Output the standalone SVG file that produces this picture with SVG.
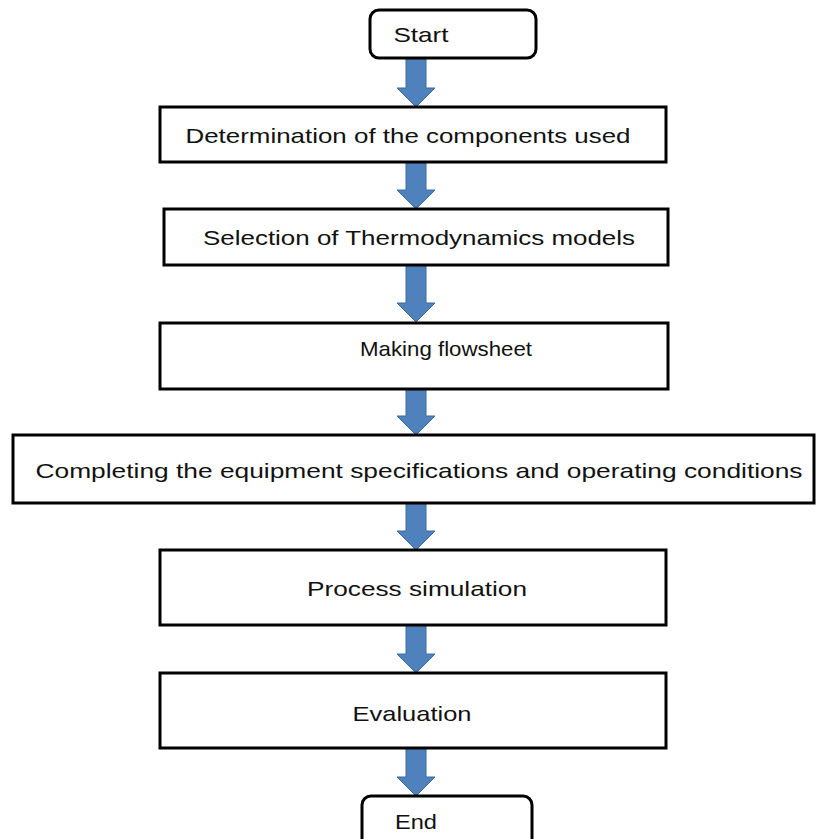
<svg xmlns="http://www.w3.org/2000/svg" width="816" height="839" viewBox="0 0 816 839">
<style>
.box{fill:#fff;stroke:#000;stroke-width:3}
.lbl{font-family:"Liberation Sans","Open Sans",Arial,sans-serif;font-size:21px;fill:#111;text-anchor:middle;dominant-baseline:central}
.arr{fill:#4f81bd;stroke:#3b6aa0;stroke-width:1}
</style>
<rect width="816" height="839" fill="#fff"/>
<g id="connectors">
<path class="arr" d="M406,58 H426 V88 H435 L416,107 L397,88 H406 Z"/>
<path class="arr" d="M406,162 H426 V190 H435 L416,209 L397,190 H406 Z"/>
<path class="arr" d="M406,265 H426 V303 H435 L416,322 L397,303 H406 Z"/>
<path class="arr" d="M406,389 H426 V416 H435 L416,435 L397,416 H406 Z"/>
<path class="arr" d="M406,503 H426 V531 H435 L416,550 L397,531 H406 Z"/>
<path class="arr" d="M406,625 H426 V654 H435 L416,673 L397,654 H406 Z"/>
<path class="arr" d="M406,748 H426 V777 H435 L416,796 L397,777 H406 Z"/>
</g>
<g id="start"><rect class="box" x="370" y="10" width="166" height="48" rx="9"/><text class="lbl" x="421" y="34" textLength="55" lengthAdjust="spacingAndGlyphs">Start</text></g>
<g id="n1"><rect class="box" x="160" y="107" width="506" height="55"/><text class="lbl" x="408" y="135" textLength="445" lengthAdjust="spacingAndGlyphs">Determination of the components used</text></g>
<g id="n2"><rect class="box" x="164" y="209" width="504" height="56"/><text class="lbl" x="419" y="237" textLength="432" lengthAdjust="spacingAndGlyphs">Selection of Thermodynamics models</text></g>
<g id="n3"><rect class="box" x="160" y="323" width="508" height="66"/><text class="lbl" x="446" y="348" textLength="172" lengthAdjust="spacingAndGlyphs">Making flowsheet</text></g>
<g id="n4"><rect class="box" x="13" y="435" width="801" height="68"/><text class="lbl" x="419" y="470" textLength="767" lengthAdjust="spacingAndGlyphs">Completing the equipment specifications and operating conditions</text></g>
<g id="n5"><rect class="box" x="160" y="550" width="506" height="75"/><text class="lbl" x="417" y="588" textLength="220" lengthAdjust="spacingAndGlyphs">Process simulation</text></g>
<g id="n6"><rect class="box" x="160" y="673" width="506" height="75"/><text class="lbl" x="412" y="713" textLength="119" lengthAdjust="spacingAndGlyphs">Evaluation</text></g>
<g id="end"><rect class="box" x="362" y="796" width="170" height="60" rx="9"/><text class="lbl" x="416" y="821" textLength="42" lengthAdjust="spacingAndGlyphs">End</text></g>
</svg>
